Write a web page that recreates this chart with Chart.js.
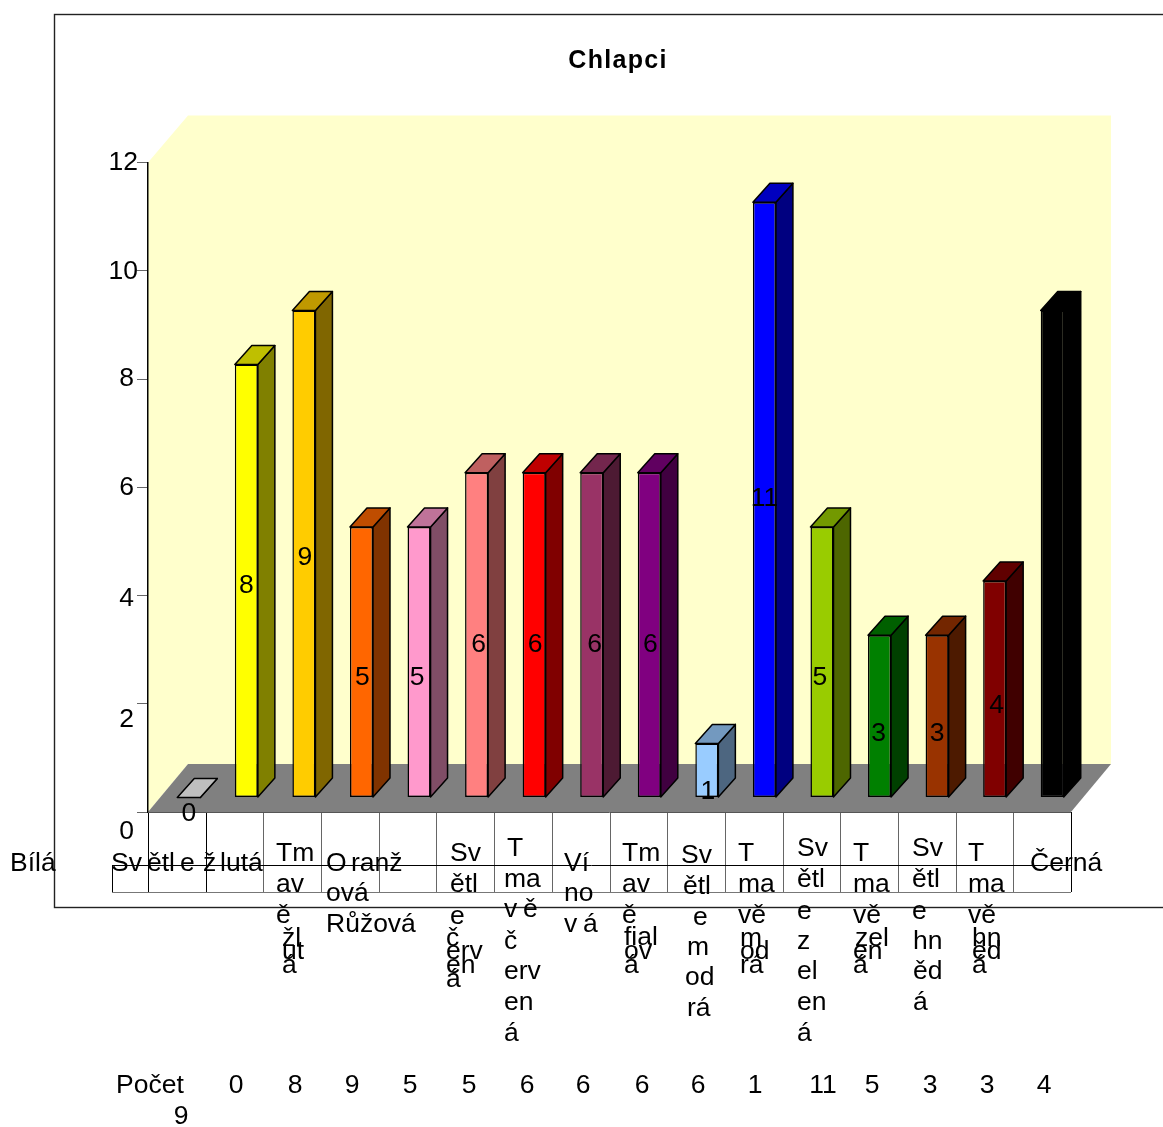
<!DOCTYPE html>
<html lang="cs">
<head>
<meta charset="utf-8">
<title>Chlapci</title>
<script src="https://cdn.jsdelivr.net/npm/chart.js@4"></script>
<style>
  html, body { margin: 0; padding: 0; background: #fff; overflow: hidden; }
  canvas { display: block; }
</style>
</head>
<body>
<canvas id="chart" width="1163" height="1127"></canvas>
<script>
  /* ===============================
     DATA
  =============================== */
  const chartTitle = 'Chlapci';
  const seriesName = 'Počet';
  const categories = [
    'Bílá', 'Světle žlutá', 'Tmavě žlutá', 'Oranžová', 'Růžová', 'Světle červená',
    'Tmavě červená', 'Vínová', 'Tmavě fialová', 'Světle modrá', 'Tmavě modrá',
    'Světle zelená', 'Tmavě zelená', 'Světle hnědá', 'Tmavě hnědá', 'Černá'
  ];
  const counts = [0, 8, 9, 5, 5, 6, 6, 6, 6, 1, 11, 5, 3, 3, 4, 9];
  const barColors = [
    '#ffffff', '#ffff00', '#ffcc00', '#ff6600', '#ff99cc', '#ff8080', '#ff0000', '#993366',
    '#800080', '#99ccff', '#0000ff', '#99cc00', '#008000', '#993300', '#800000', '#000000'
  ];
  const axisTicks = [0, 2, 4, 6, 8, 10, 12];

  // the table header wraps badly in the source, so the pieces are kept as they appear
  const headerPieces = [
    ['Bílá'],
    ['Sv', 'ětl', 'e', 'ž', 'lutá'],
    ['Tm', 'av', 'ě', 'žl', 'ut', 'á'],
    ['O', 'ranž', 'ová', 'Růžová'],
    ['Sv', 'ětl', 'e', 'č', 'erv', 'en', 'á'],
    ['T', 'ma', 'v', 'ě', 'č', 'erv', 'en', 'á'],
    ['Ví', 'no', 'v', 'á'],
    ['Tm', 'av', 'ě', 'fial', 'ov', 'á'],
    ['Sv', 'ětl', 'e', 'm', 'od', 'rá'],
    ['T', 'ma', 'vě', 'm', 'od', 'rá'],
    ['Sv', 'ětl', 'e', 'z', 'el', 'en', 'á'],
    ['T', 'ma', 'vě', 'zel', 'en', 'á'],
    ['Sv', 'ětl', 'e', 'hn', 'ěd', 'á'],
    ['T', 'ma', 'vě', 'hn', 'ěd', 'á'],
    ['Černá']
  ];

  /* ===============================
     LAYOUT
  =============================== */
  const FONT = '"Liberation Sans", Arial, sans-serif';
  const TEXT_SIZE = 26.5;
  const TEXT_DROP = 1.5;                  // middle baseline sits a bit high for this font
  const FLOOR_DX = 40, FLOOR_DY = 48;     // depth of the chart box
  const BAR_SHIFT_X = 12, BAR_SHIFT_Y = -14.5; // bars stand in the middle of the floor
  const BAR_DX = 17, BAR_DY = 19;         // depth of one bar
  const TABLE_RIGHT = 1071;               // table is a little wider than the bar bands

  const tickLabelPos = { 12: [138, 161], 10: [138, 270], 8: [134, 377], 6: [134, 486], 4: [134, 597], 2: [134, 718], 0: [134, 830] };

  // where the value label of a bar of that height sits, in axis units
  const labelHeight = { 0: 0, 1: 0.41, 3: 1.48, 4: 2, 5: 2.51, 6: 3.12, 8: 4.21, 9: 4.73, 11: 5.82 };
  const labelNudgeX = [0, 0, 1, 1, -2, 2, 1, 3, 1, 1, 0, -2, -1, 0, 2, 0];

  const headerPos = [
    [[10, 862]],
    [[111, 862], [147, 862], [180, 862], [203, 862], [220, 862]],
    [[276, 852], [276, 883], [276, 914], [282, 937], [282, 950], [282, 964]],
    [[326, 862], [351, 862], [326, 892], [326, 923]],
    [[450, 852], [450, 883], [450, 915], [446, 937], [446, 950], [446, 964], [446, 978]],
    [[507, 847], [504, 878], [504, 908], [523, 908], [504, 940], [504, 970], [504, 1001], [504, 1032]],
    [[564, 862], [564, 892], [564, 923], [583, 923]],
    [[622, 852], [622, 883], [622, 914], [624, 936], [624, 950], [624, 964]],
    [[681, 854], [683, 885], [693, 916], [687, 946], [685, 976], [687, 1007]],
    [[738, 852], [738, 883], [738, 914], [740, 937], [740, 950], [740, 964]],
    [[797, 847], [797, 878], [797, 910], [797, 940], [797, 970], [797, 1001], [797, 1032]],
    [[853, 852], [853, 883], [853, 914], [855, 937], [853, 950], [853, 964]],
    [[912, 847], [912, 878], [912, 910], [913, 940], [913, 970], [913, 1001]],
    [[968, 852], [968, 883], [968, 914], [972, 937], [972, 950], [972, 964]],
    [[1030, 862]]
  ];
  const countRowX = [236, 295, 352, 410, 469, 527, 583, 642, 698, 755, 823, 872, 930, 987, 1044];

  /* ===============================
     HELPERS
  =============================== */
  const shade = (hex, k) => {
    const n = parseInt(hex.slice(1), 16);
    const c = [(n >> 16) & 255, (n >> 8) & 255, n & 255].map(v => Math.round(v * k));
    return `rgb(${c[0]},${c[1]},${c[2]})`;
  };

  function poly(ctx, pts, fill, stroke) {
    ctx.beginPath();
    pts.forEach((p, i) => (i ? ctx.lineTo(p[0], p[1]) : ctx.moveTo(p[0], p[1])));
    ctx.closePath();
    if (fill) { ctx.fillStyle = fill; ctx.fill(); }
    if (stroke) { ctx.strokeStyle = stroke; ctx.lineWidth = 1.5; ctx.lineJoin = 'round'; ctx.stroke(); }
  }

  function text(ctx, str, x, y, align) {
    ctx.textAlign = align || 'left';
    ctx.textBaseline = 'middle';
    ctx.fillText(str, x, y + TEXT_DROP);
  }

  function line(ctx, x1, y1, x2, y2, color) {
    ctx.strokeStyle = color;
    ctx.lineWidth = 1;
    ctx.beginPath();
    ctx.moveTo(x1, y1);
    ctx.lineTo(x2, y2);
    ctx.stroke();
  }

  /* ===============================
     3D BOX, TABLE AND TEXT
  =============================== */
  const boxPlugin = {
    id: 'box3d',
    beforeDraw(chart) {
      const { ctx, chartArea: a } = chart;
      ctx.save();
      // outer frame runs off the right edge of the page
      ctx.strokeStyle = '#222';
      ctx.lineWidth = 1.4;
      ctx.strokeRect(54.5, 14.5, 1130, 893);

      const wallTop = a.top - 47;
      const backY = a.bottom - FLOOR_DY;
      poly(ctx, [
        [a.left, a.top], [a.left + FLOOR_DX, wallTop], [TABLE_RIGHT + FLOOR_DX, wallTop],
        [TABLE_RIGHT + FLOOR_DX, backY], [a.left + FLOOR_DX, backY], [a.left, a.bottom]
      ], '#ffffcc');
      poly(ctx, [
        [a.left, a.bottom], [a.left + FLOOR_DX, backY],
        [TABLE_RIGHT + FLOOR_DX, backY], [TABLE_RIGHT, a.bottom]
      ], '#808080');
      ctx.restore();
    },
    beforeDatasetDraw(chart, args) {
      const { ctx } = chart;
      ctx.save();
      ctx.translate(BAR_SHIFT_X, BAR_SHIFT_Y);
      args.meta.data.forEach((bar, i) => {
        const right = bar.x + bar.width / 2;
        const left = bar.x - bar.width / 2;
        poly(ctx, [
          [right, bar.y], [right + BAR_DX, bar.y - BAR_DY],
          [right + BAR_DX, bar.base - BAR_DY], [right, bar.base]
        ], shade(barColors[i], 0.5), '#000');
        poly(ctx, [
          [left, bar.y], [left + BAR_DX, bar.y - BAR_DY],
          [right + BAR_DX, bar.y - BAR_DY], [right, bar.y]
        ], shade(barColors[i], 0.75), '#000');
      });
    },
    afterDatasetDraw(chart) {
      chart.ctx.restore();
    },
    afterDraw(chart) {
      const { ctx, chartArea: a, scales } = chart;
      const bandW = (TABLE_RIGHT - a.left) / categories.length;
      const rowY = 865, tableBottom = 892, rowLeft = 112;

      ctx.save();
      // data table lines
      for (let i = 0; i <= categories.length; i++) {
        const x = Math.round(a.left + i * bandW) + 0.5;
        line(ctx, x, a.bottom, x, tableBottom, i < 2 || i === categories.length ? '#000' : '#666');
      }
      line(ctx, a.left, a.bottom + 0.5, TABLE_RIGHT, a.bottom + 0.5, '#555');
      line(ctx, rowLeft, rowY + 0.5, TABLE_RIGHT, rowY + 0.5, '#000');
      line(ctx, rowLeft, tableBottom + 0.5, TABLE_RIGHT, tableBottom + 0.5, '#777');
      line(ctx, rowLeft + 0.5, rowY, rowLeft + 0.5, tableBottom, '#000');

      ctx.fillStyle = '#000';
      ctx.font = `${TEXT_SIZE}px ${FONT}`;

      // axis numbers drift away from their ticks in the source
      scales.y.ticks.forEach(t => {
        const p = tickLabelPos[t.value];
        if (p) text(ctx, String(t.value), p[0], p[1], 'right');
      });

      const meta = chart.getDatasetMeta(0);
      meta.data.forEach((bar, i) => {
        const y = scales.y.getPixelForValue(labelHeight[counts[i]]);
        text(ctx, String(counts[i]), bar.x + BAR_SHIFT_X + labelNudgeX[i], y, 'center');
      });

      headerPieces.forEach((pieces, c) => {
        pieces.forEach((piece, k) => {
          const p = headerPos[c][k];
          text(ctx, piece, p[0], p[1]);
        });
      });

      text(ctx, seriesName, 116, 1084);
      countRowX.forEach((x, i) => text(ctx, String(counts[i]), x, 1084, 'center'));
      text(ctx, String(counts[counts.length - 1]), 181, 1115, 'center');

      ctx.font = `bold 25px ${FONT}`;
      ctx.letterSpacing = '1.3px';
      text(ctx, chartTitle, 618, 60, 'center');
      ctx.restore();
    }
  };

  /* ===============================
     CHART
  =============================== */
  new Chart(document.getElementById('chart'), {
    type: 'bar',
    data: {
      labels: categories,
      datasets: [{
        label: seriesName,
        data: counts,
        backgroundColor: barColors,
        borderColor: '#000',
        borderWidth: 1.5,
        borderSkipped: false,
        inflateAmount: 0,
        barPercentage: 0.4,
        categoryPercentage: 1,
        clip: false
      }]
    },
    options: {
      responsive: false,
      animation: false,
      layout: { padding: { left: 148, right: 94, top: 162.6, bottom: 315 } },
      plugins: { legend: { display: false }, tooltip: { enabled: false }, title: { display: false } },
      scales: {
        x: { display: false },
        y: {
          min: 0,
          max: 12,
          afterBuildTicks: s => { s.ticks = axisTicks.map(value => ({ value })); },
          afterFit: s => { s.width = 0; },
          ticks: { display: false },
          border: { color: '#000', width: 1.5 },
          grid: { drawOnChartArea: false, tickLength: 11, tickColor: '#666', tickWidth: 1 }
        }
      }
    },
    plugins: [boxPlugin]
  });
</script>
</body>
</html>
